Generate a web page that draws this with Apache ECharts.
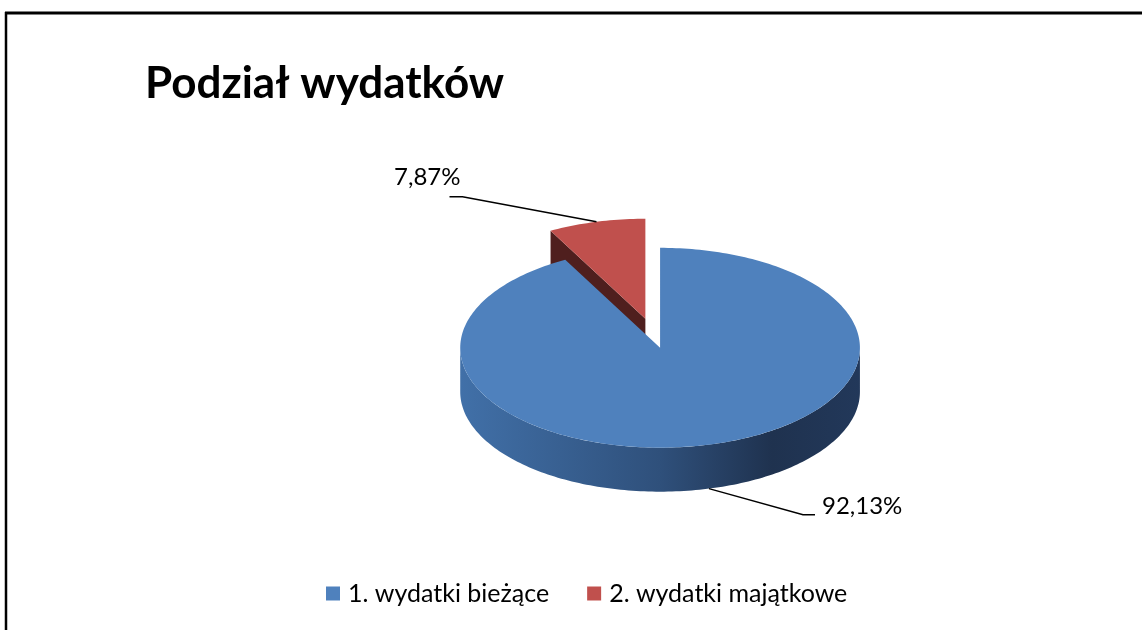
<!DOCTYPE html>
<html>
<head>
<meta charset="utf-8">
<script src="https://cdn.jsdelivr.net/npm/echarts@6/dist/echarts.min.js"></script>
<style>
  html, body { margin: 0; padding: 0; background: #fff; }
  #chart { width: 1142px; height: 630px; }
</style>
</head>
<body>
<div id="chart"></div>
<script>
// slices of the pie, in drawing order (clockwise from 12 o'clock)
const categories = ['1. wydatki bieżące', '2. wydatki majątkowe'];
const shares = [92.13, 7.87];

const palette = {
    top: ['#4F81BD', '#C0504D'],
    cut: ['#2B4A73', '#4F1F1E'],
    side: [
        [['#4170A8', 0], ['#2F507B', 0.5], ['#1F324F', 0.78], ['#22385A', 1]],
        [['#7A2F2D', 0], ['#4F1F1E', 1]]
    ]
};

const total = shares.reduce((a, b) => a + b, 0);
const fmt = v => v.toFixed(2).replace('.', ',') + '%';

function startAngle(idx) {
    let s = 0;
    for (let i = 0; i < idx; i++) s += shares[i];
    return s / total * Math.PI * 2;
}

function renderSlice(idx, explode, leader) {
    return function (params, api) {
        const W = api.getWidth(), H = api.getHeight();
        const rx = W * 0.175, ry = rx / 2, depth = 44;
        const a0 = startAngle(idx);
        const a1 = a0 + api.value(0) / total * Math.PI * 2;
        const mid = (a0 + a1) / 2;
        const cx = W * 0.578 + rx * Math.sin(mid) * explode;
        const cy = H * 0.552 - ry * Math.cos(mid) * explode;
        const pt = (a, d) => [cx + rx * Math.sin(a), cy - ry * Math.cos(a) + (d || 0)];
        const arc = (from, to, d) => {
            const out = [];
            const n = Math.max(2, Math.ceil(Math.abs(to - from) / 0.02));
            for (let k = 0; k <= n; k++) out.push(pt(from + (to - from) * k / n, d));
            return out;
        };
        const children = [];

        // radial cut walls
        if (Math.sin(a0) < -1e-6) {
            const p = pt(a0);
            children.push({ type: 'polygon', shape: { points: [[cx, cy], p, [p[0], p[1] + depth], [cx, cy + depth]] },
                style: { fill: palette.cut[idx] } });
        }
        if (Math.sin(a1) > 1e-6) {
            const p = pt(a1);
            children.push({ type: 'polygon', shape: { points: [[cx, cy], p, [p[0], p[1] + depth], [cx, cy + depth]] },
                style: { fill: palette.cut[idx] } });
        }

        // front outer wall
        const lo = Math.max(a0, Math.PI / 2), hi = Math.min(a1, Math.PI * 1.5);
        if (lo < hi) {
            const pts = arc(lo, hi, 0).concat(arc(hi, lo, depth));
            children.push({ type: 'polygon', shape: { points: pts },
                style: { fill: new echarts.graphic.LinearGradient(0, 0, 1, 0,
                    palette.side[idx].map(s => ({ offset: s[1], color: s[0] }))) } });
        }

        // top face
        children.push({ type: 'polygon', shape: { points: [[cx, cy]].concat(arc(a0, a1, 0)) },
            style: { fill: palette.top[idx] } });

        // leader line and label
        const onFront = Math.cos(mid) < 0;
        const s = pt(mid, onFront ? depth : 0);
        const b = [s[0] + leader[0], s[1] + leader[1]];
        const e = [b[0] + leader[2], b[1]];
        children.push({ type: 'polyline', shape: { points: [s, b, e] },
            style: { stroke: '#000', lineWidth: 1.5, fill: null } });
        const right = leader[2] > 0;
        children.push({ type: 'text',
            x: right ? e[0] + 7 : e[0] + 11,
            y: right ? e[1] - 8 : e[1] - 8,
            style: { text: fmt(api.value(0)), fill: '#000', font: '24px Lato',
                align: right ? 'left' : 'right', verticalAlign: right ? 'middle' : 'bottom' } });

        return { type: 'group', children: children };
    };
}

const chart = echarts.init(document.getElementById('chart'));
chart.setOption({
    animation: false,
    title: {
        text: 'Podział wydatków',
        left: 140, top: 57,
        textStyle: { fontFamily: 'Lato', fontWeight: 'bold', fontSize: 44, color: '#000' }
    },
    legend: {
        data: categories,
        bottom: 19,
        left: 321,
        icon: 'rect',
        itemWidth: 14, itemHeight: 14,
        itemGap: 38,
        textStyle: { fontFamily: 'Lato', fontSize: 25, color: '#000', padding: [0, 0, 0, 3] }
    },
    graphic: [
        { type: 'line', shape: { x1: 5, y1: 13, x2: 1142, y2: 13 }, style: { stroke: '#000', lineWidth: 3 } },
        { type: 'line', shape: { x1: 6, y1: 12, x2: 6, y2: 630 }, style: { stroke: '#000', lineWidth: 2.5 } }
    ],
    series: [
        {
            name: categories[0], type: 'custom', coordinateSystem: 'none', z: 3,
            itemStyle: { color: palette.top[0] },
            renderItem: renderSlice(0, 0, [94, 26, 12]),
            data: [[shares[0]]]
        },
        {
            name: categories[1], type: 'custom', coordinateSystem: 'none', z: 2,
            itemStyle: { color: palette.top[1] },
            renderItem: renderSlice(1, 0.3, [-134, -25, -13]),
            data: [[shares[1]]]
        }
    ]
});
</script>
</body>
</html>
